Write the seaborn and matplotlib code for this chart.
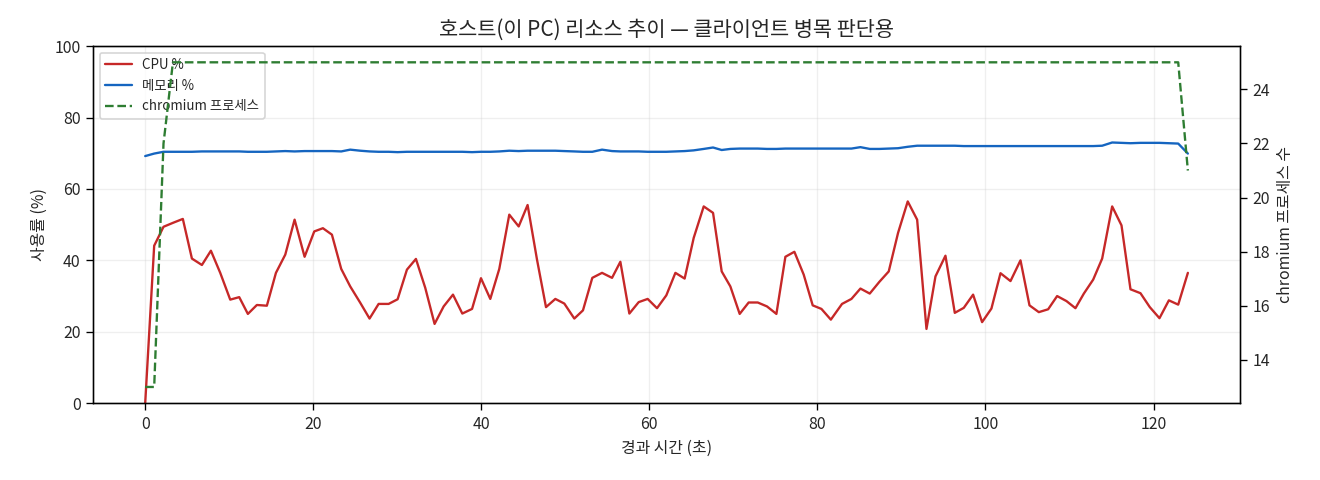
import numpy as np
import pandas as pd
import matplotlib
matplotlib.use('Agg')
import matplotlib.pyplot as plt
import seaborn as sns

# elapsed seconds of each sample
elapsed = [0.0, 1.07, 2.18, 3.3, 4.48, 5.56, 6.75, 7.82, 8.93, 10.12,
           11.19, 12.22, 13.29, 14.48, 15.56, 16.67, 17.78, 18.97, 20.12, 21.15,
           22.22, 23.33, 24.4, 25.6, 26.7, 27.78, 28.97, 30.04, 31.15, 32.22,
           33.33, 34.44, 35.52, 36.63, 37.74, 38.9, 39.96, 41.07, 42.14, 43.33,
           44.45, 45.51, 46.63, 47.7, 48.81, 49.88, 51.07, 52.1, 53.21, 54.37,
           55.56, 56.55, 57.62, 58.73, 59.8, 60.91, 62.02, 63.1, 64.2, 65.28,
           66.47, 67.58, 68.61, 69.64, 70.75, 71.82, 72.9, 74.0, 75.12, 76.19,
           77.26, 78.37, 79.44, 80.48, 81.6, 82.93, 84.05, 85.12, 86.23, 87.38,
           88.49, 89.6, 90.75, 91.87, 92.98, 94.05, 95.24, 96.35, 97.42, 98.53,
           99.6, 100.71, 101.79, 102.98, 104.17, 105.24, 106.35, 107.46, 108.53, 109.64,
           110.71, 111.71, 112.82, 113.89, 115.08, 116.19, 117.26, 118.45, 119.56, 120.71,
           121.83, 122.94, 124.09]

cpu = [0.0, 44.1, 49.4, 50.5, 51.6, 40.5, 38.7, 42.7, 36.5, 29.0,
       29.7, 25.0, 27.5, 27.3, 36.5, 41.6, 51.4, 41.0, 48.1, 49.0,
       47.2, 37.6, 32.7, 28.1, 23.7, 27.8, 27.8, 29.1, 37.4, 40.4,
       32.3, 22.2, 27.1, 30.4, 25.1, 26.4, 35.0, 29.2, 37.6, 52.8,
       49.5, 55.5, 40.2, 26.9, 29.2, 27.9, 23.7, 26.0, 35.1, 36.5,
       35.1, 39.6, 25.1, 28.3, 29.2, 26.6, 30.2, 36.5, 34.9, 46.3,
       55.1, 53.3, 36.9, 32.7, 25.0, 28.2, 28.2, 27.1, 25.0, 41.0,
       42.4, 36.0, 27.4, 26.4, 23.4, 27.8, 29.2, 32.1, 30.7, 34.0,
       36.9, 47.7, 56.5, 51.4, 20.8, 35.5, 41.3, 25.3, 26.7, 30.4,
       22.7, 26.5, 36.4, 34.2, 40.0, 27.4, 25.5, 26.3, 30.0, 28.6,
       26.6, 30.7, 34.6, 40.5, 55.1, 49.8, 31.9, 30.8, 26.9, 23.8,
       28.8, 27.6, 36.5]

memory = [69.2, 69.9, 70.4, 70.4, 70.4, 70.4, 70.5, 70.5, 70.5, 70.5,
          70.5, 70.4, 70.4, 70.4, 70.5, 70.6, 70.5, 70.6, 70.6, 70.6,
          70.6, 70.5, 71.0, 70.7, 70.5, 70.4, 70.4, 70.3, 70.4, 70.4,
          70.4, 70.4, 70.4, 70.4, 70.4, 70.3, 70.4, 70.4, 70.5, 70.7,
          70.6, 70.7, 70.7, 70.7, 70.7, 70.6, 70.5, 70.4, 70.4, 71.0,
          70.6, 70.5, 70.5, 70.5, 70.4, 70.4, 70.4, 70.5, 70.6, 70.8,
          71.2, 71.6, 70.9, 71.2, 71.3, 71.3, 71.3, 71.2, 71.2, 71.3,
          71.3, 71.3, 71.3, 71.3, 71.3, 71.3, 71.3, 71.7, 71.2, 71.2,
          71.3, 71.4, 71.8, 72.1, 72.1, 72.1, 72.1, 72.1, 72.0, 72.0,
          72.0, 72.0, 72.0, 72.0, 72.0, 72.0, 72.0, 72.0, 72.0, 72.0,
          72.0, 72.0, 72.0, 72.1, 73.0, 72.9, 72.8, 72.9, 72.9, 72.9,
          72.8, 72.7, 69.9]

chromium = [13, 13, 22] + [25] * 109 + [21]

df = pd.DataFrame({'t': elapsed, 'cpu': cpu, 'mem': memory, 'chrome': chromium})

sns.set_style('white')
plt.rcParams['font.family'] = ['Noto Sans CJK KR', 'DejaVu Sans']
plt.rcParams['axes.unicode_minus'] = False

fig, ax = plt.subplots(figsize=(11, 4), dpi=120)
sns.lineplot(data=df, x='t', y='cpu', ax=ax, color='#c62828', linewidth=1.4, label='CPU %')
sns.lineplot(data=df, x='t', y='mem', ax=ax, color='#1565c0', linewidth=1.4, label='메모리 %')
ax.set_ylim(0, 100)
ax.set_xlabel('경과 시간 (초)', fontsize=9.5)
ax.set_ylabel('사용률 (%)', fontsize=9.5)
ax.grid(alpha=0.3)
for s in ax.spines.values():
    s.set_color('black')
ax.tick_params(axis='both', which='both', direction='out', length=4, color='black',
               left=True, bottom=True, labelsize=9.5)

ax2 = ax.twinx()
sns.lineplot(data=df, x='t', y='chrome', ax=ax2, color='#2e7d32', linewidth=1.4,
             linestyle='--', label='chromium 프로세스')
ax2.set_ylabel('chromium 프로세스 수', fontsize=9.5)
ax2.tick_params(axis='y', direction='out', length=4, color='black', right=True, labelsize=9.5)
for s in ax2.spines.values():
    s.set_color('black')

# merge the two legends
h1, l1 = ax.get_legend_handles_labels()
h2, l2 = ax2.get_legend_handles_labels()
ax2.get_legend().remove()
ax.get_legend().remove()
ax.legend(h1 + h2, l1 + l2, loc='upper left', fontsize=8)

ax.set_title('호스트(이 PC) 리소스 추이 — 클라이언트 병목 판단용', fontsize=12.5)
fig.subplots_adjust(left=0.0705, right=0.9394, top=0.904, bottom=0.160)
fig.savefig('out.png')
